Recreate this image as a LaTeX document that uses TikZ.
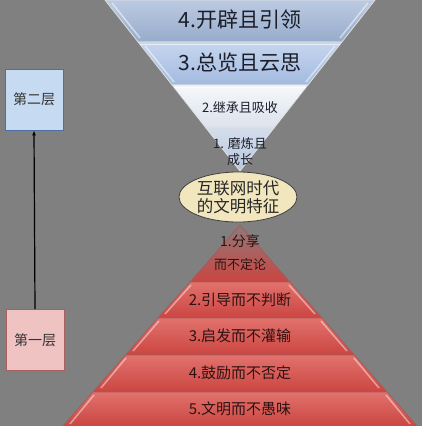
\documentclass[tikz,border=0pt]{standalone}
\usepackage{fontspec}
\setmainfont{Liberation Sans}
\newfontfamily\cjk{Noto Sans CJK SC}
\usetikzlibrary{shapes.geometric,arrows.meta}
\definecolor{bg}{HTML}{808080}
\definecolor{bluetop}{HTML}{BCCBE2}
\definecolor{bluebot}{HTML}{97ABCB}
\definecolor{bluetopb}{HTML}{C5D6EE}
\definecolor{bluebotb}{HTML}{A3BAE0}
\definecolor{whtop}{HTML}{F6F7FA}
\definecolor{whbot}{HTML}{DCE2EC}
\definecolor{lbtop}{HTML}{D3DDEC}
\definecolor{lbbot}{HTML}{B9C8E0}
\definecolor{redtop}{HTML}{E2726D}
\definecolor{redbot}{HTML}{CB4541}
\definecolor{redtxt}{HTML}{2E1212}
\definecolor{bluetxt}{HTML}{1C1E2A}
\definecolor{ellfill}{HTML}{F1E6BE}
\definecolor{box2fill}{HTML}{C6DAF2}
\definecolor{box2line}{HTML}{4F6FA6}
\definecolor{box1fill}{HTML}{F0C3C3}
\definecolor{box1line}{HTML}{A86060}
\definecolor{apexgray}{HTML}{8E7A7A}
\tikzset{
  bandline/.style={draw=white!75!bg, line width=0.8pt},
  redband/.style={bandline, draw=red!30!bg, top color=redtop, bottom color=redbot},
  rtext/.style={font=\cjk\fontsize{15}{17}\selectfont\color{redtxt}, text=redtxt, inner sep=0pt},
  btext/.style={font=\cjk\fontsize{21}{24}\selectfont\color{bluetxt}, text=bluetxt, inner sep=0pt},
  stext/.style={font=\cjk\fontsize{13}{16}\selectfont\color{bluetxt}, text=bluetxt, inner sep=0pt, align=center},
  layerbox/.style={minimum width=58pt, minimum height=61pt, inner sep=0pt, line width=0.8pt, font=\cjk\fontsize{14}{16}\selectfont, text=black!80},
}
\begin{document}
\begin{tikzpicture}[x=1pt,y=-1pt]
\fill[bg] (0,0) rectangle (422,426);
\useasboundingbox (0,0) rectangle (422,426);

% inverted triangle bands
\path[bandline, top color=bluetop, bottom color=bluebot] (105,0) -- (375,0) -- (341.9,42) -- (138.1,42) -- cycle;
\path[bandline, top color=bluetopb, bottom color=bluebotb] (138.1,42) -- (341.9,42) -- (307.9,85) -- (172.1,85) -- cycle;
\path[bandline, top color=whtop, bottom color=whbot] (172.1,85) -- (307.9,85) -- (274,128) -- (206,128) -- cycle;
\path[bandline, top color=lbtop, bottom color=lbbot] (206,128) -- (274,128) -- (240,171) -- cycle;
% bevel highlights
\draw[white, opacity=0.6, line width=1pt] (140,44) -- (340,44);
\draw[white, opacity=0.6, line width=1pt] (174,87) -- (306,87);
\draw[white, opacity=0.5, line width=1.5pt] (112,3) -- (140,38);
\draw[white, opacity=0.5, line width=1.5pt] (368,3) -- (340,38);
\draw[white, opacity=0.5, line width=1.5pt] (145,46) -- (174,82);
\draw[white, opacity=0.5, line width=1.5pt] (335,46) -- (306,82);

% red pyramid bands
\path[bandline, draw=red!30!bg, top color=apexgray, middle color=redtop, bottom color=redbot] (240,225) -- (289.8,282) -- (190.2,282) -- cycle;
\path[redband] (190.2,282) -- (289.8,282) -- (322,318) -- (158,318) -- cycle;
\path[redband] (158,318) -- (322,318) -- (354.4,355) -- (125.6,355) -- cycle;
\path[redband] (125.6,355) -- (354.4,355) -- (387,392) -- (93,392) -- cycle;
\path[redband] (93,392) -- (387,392) -- (417,426) -- (63,426) -- cycle;
\foreach \ya/\yb/\xa/\xb in {285/314/187/161, 321/351/155/129, 358/388/122/97, 395/424/90/66}{
  \draw[white, opacity=0.45, line width=1.5pt] (\xa+4,\ya) -- (\xb+4,\yb);
  \draw[white, opacity=0.45, line width=1.5pt] (480-\xa-4,\ya) -- (480-\xb-4,\yb);
}

\node[btext] (t4) at (240,20) {4.开辟且引领};
\node[btext] (t3) at (240,63) {3.总览且云思};
\node[stext] (t2) at (240,108) {2.继承且吸收};
\node[stext] (t1) at (240,152) {1. 磨炼且\\成长};

% ellipse
\node[ellipse, draw=black!75, line width=0.8pt, fill=ellfill, minimum width=118pt, minimum height=50pt, inner sep=0pt,
  font=\cjk\fontsize{16.5}{19}\selectfont, align=center, text=black!85] (core) at (238,197) {互联网时代\\[-1pt]的文明特征};

\node[rtext, font=\cjk\fontsize{14}{16}\selectfont\color{redtxt}] (r1a) at (240,241) {1.分享};
\node[rtext, font=\cjk\fontsize{13}{15}\selectfont\color{redtxt}] (r1b) at (240,265) {而不定论};
\node[rtext] (r2) at (240,300) {2.引导而不判断};
\node[rtext] (r3) at (240,336) {3.启发而不灌输};
\node[rtext] (r4) at (240,373) {4.鼓励而不否定};
\node[rtext] (r5) at (240,409) {5.文明而不愚味};

% layer boxes
\node[layerbox, draw=box2line, fill=box2fill] (l2) at (34,99.5) {第二层};
\node[layerbox, draw=box1line, fill=box1fill] (l1) at (35,340) {第一层};
\draw[-{Latex[length=5pt,width=4pt]}, line width=1.2pt, black] (l1.north) -- (l2.south);
\end{tikzpicture}
\end{document}
